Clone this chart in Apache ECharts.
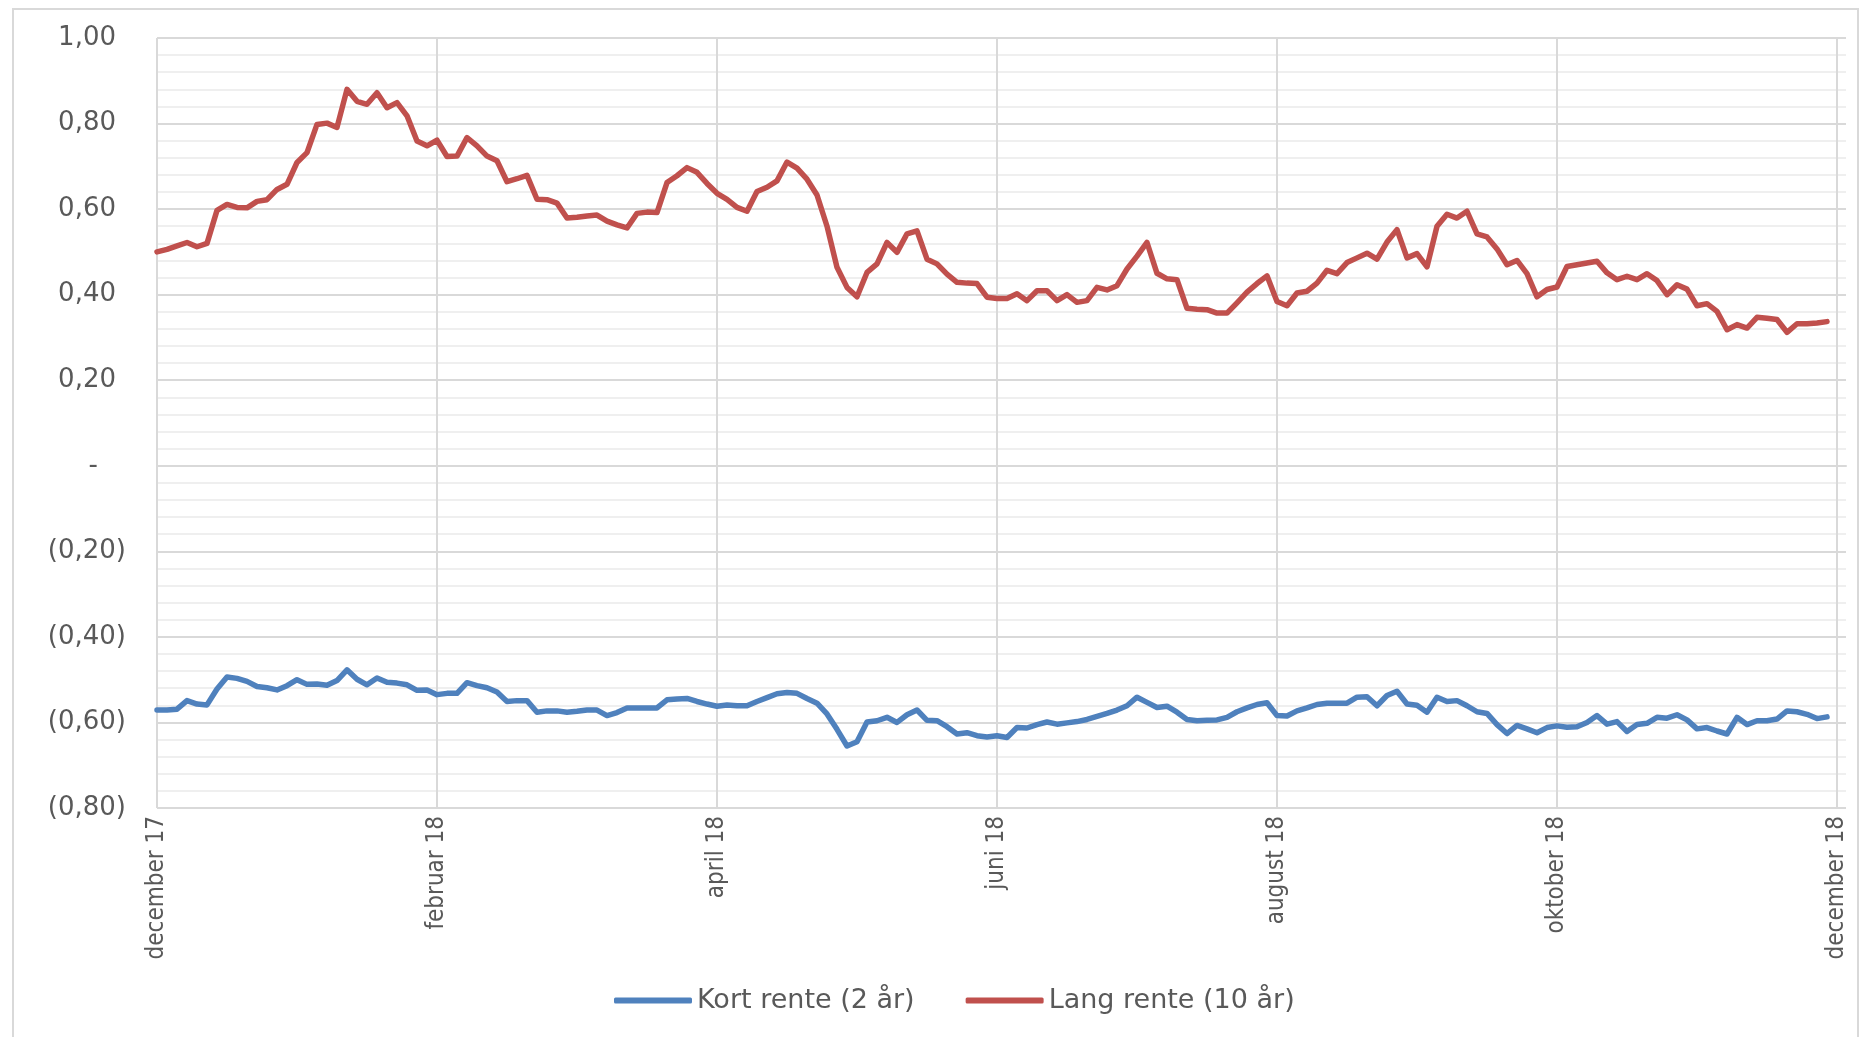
<!DOCTYPE html>
<html>
<head>
<meta charset="utf-8">
<script src="https://cdn.jsdelivr.net/npm/echarts@6/dist/echarts.min.js"></script>
<style>
html,body{margin:0;padding:0;background:#fff;}
#c{width:1861px;height:1037px;}
</style>
</head>
<body>
<div id="c"></div>
<script>
// x tick labels (every 2 months)
const tickLabels = ['december 17','februar 18','april 18','juni 18','august 18','oktober 18','december 18'];
const pointsPerLabel = 28;

// Kort rente (2 år)
const kortRente = [
-0.571,-0.571,-0.569,-0.549,-0.557,-0.559,-0.522,-0.494,-0.497,-0.504,
-0.516,-0.519,-0.524,-0.514,-0.500,-0.511,-0.510,-0.513,-0.502,-0.477,
-0.499,-0.512,-0.496,-0.506,-0.508,-0.512,-0.525,-0.524,-0.535,-0.532,
-0.532,-0.507,-0.514,-0.519,-0.529,-0.551,-0.549,-0.549,-0.576,-0.573,
-0.573,-0.576,-0.574,-0.571,-0.571,-0.584,-0.577,-0.566,-0.566,-0.566,
-0.566,-0.547,-0.545,-0.544,-0.551,-0.557,-0.562,-0.559,-0.561,-0.561,
-0.551,-0.542,-0.533,-0.530,-0.532,-0.544,-0.555,-0.580,-0.616,-0.655,
-0.645,-0.599,-0.596,-0.588,-0.600,-0.582,-0.571,-0.595,-0.596,-0.610,
-0.627,-0.624,-0.631,-0.634,-0.631,-0.635,-0.612,-0.613,-0.605,-0.599,
-0.604,-0.601,-0.598,-0.593,-0.586,-0.579,-0.571,-0.561,-0.541,-0.553,
-0.565,-0.562,-0.576,-0.593,-0.596,-0.595,-0.594,-0.588,-0.575,-0.566,
-0.558,-0.554,-0.584,-0.585,-0.573,-0.566,-0.558,-0.555,-0.555,-0.555,
-0.541,-0.540,-0.561,-0.537,-0.527,-0.557,-0.560,-0.576,-0.541,-0.551,
-0.549,-0.561,-0.575,-0.579,-0.605,-0.626,-0.607,-0.615,-0.624,-0.612,
-0.608,-0.611,-0.610,-0.600,-0.584,-0.604,-0.598,-0.621,-0.605,-0.602,
-0.588,-0.590,-0.582,-0.594,-0.615,-0.612,-0.620,-0.627,-0.588,-0.605,
-0.596,-0.596,-0.592,-0.573,-0.575,-0.581,-0.591,-0.587
];

// Lang rente (10 år)
const langRente = [
0.500,0.506,0.514,0.522,0.512,0.520,0.597,0.611,0.604,0.603,
0.618,0.622,0.646,0.658,0.709,0.732,0.798,0.801,0.791,0.880,
0.852,0.845,0.872,0.837,0.849,0.818,0.759,0.748,0.761,0.723,
0.724,0.767,0.748,0.724,0.713,0.664,0.671,0.679,0.623,0.622,
0.614,0.579,0.581,0.584,0.586,0.572,0.563,0.556,0.590,0.593,
0.592,0.662,0.678,0.697,0.686,0.660,0.637,0.623,0.604,0.595,
0.641,0.651,0.666,0.710,0.696,0.670,0.633,0.560,0.464,0.417,
0.395,0.452,0.472,0.522,0.499,0.542,0.549,0.483,0.472,0.448,
0.429,0.427,0.426,0.394,0.391,0.391,0.402,0.386,0.409,0.409,
0.386,0.400,0.382,0.386,0.417,0.411,0.421,0.460,0.490,0.522,
0.450,0.437,0.435,0.368,0.366,0.365,0.357,0.357,0.381,0.406,
0.426,0.444,0.384,0.374,0.404,0.408,0.427,0.457,0.449,0.475,
0.486,0.497,0.483,0.523,0.552,0.486,0.496,0.465,0.560,0.588,
0.579,0.595,0.542,0.535,0.507,0.470,0.480,0.449,0.395,0.412,
0.418,0.466,0.470,0.474,0.478,0.451,0.435,0.443,0.435,0.449,
0.433,0.400,0.423,0.413,0.374,0.379,0.361,0.318,0.330,0.322,
0.347,0.345,0.342,0.312,0.332,0.332,0.334,0.337
];

const seriesNames = ['Kort rente (2 år)', 'Lang rente (10 år)'];

function fmtNum(v){ return v.toFixed(2).replace('.', ','); }

const chart = echarts.init(document.getElementById('c'));
const textColor = '#595959';
const gridColor = '#d9d9d9';
const lastTick = pointsPerLabel * (tickLabels.length - 1);
const yFont = 26;

chart.setOption({
  animation: false,
  backgroundColor: '#ffffff',
  graphic: [{
    type: 'rect', z: -10,
    shape: {x: 13, y: 9, width: 1845, height: 1040},
    style: {fill: 'none', stroke: '#d9d9d9', lineWidth: 2}
  }],
  grid: {left: 157, top: 38, right: 15, bottom: 229, containLabel: false},
  xAxis: {
    type: 'value',
    min: 0,
    max: lastTick + 0.9,
    interval: pointsPerLabel,
    axisLine: {show: true, lineStyle: {color: gridColor, width: 2}},
    axisTick: {show: false},
    splitLine: {show: true, showMaxLine: false, lineStyle: {color: gridColor, width: 2}},
    axisLabel: {
      rotate: 90,
      margin: 8,
      color: textColor,
      fontFamily: "'DejaVu Sans Condensed', 'Liberation Sans', sans-serif",
      fontSize: 24,
      showMaxLabel: true,
      formatter: function (v) {
        const k = v / pointsPerLabel;
        if (Math.abs(k - Math.round(k)) > 1e-6) return '';
        return tickLabels[Math.round(k)] || '';
      }
    }
  },
  yAxis: {
    type: 'value',
    min: -0.8,
    max: 1.0,
    interval: 0.2,
    axisLine: {show: false},
    axisTick: {show: false},
    splitLine: {show: true, lineStyle: {color: gridColor, width: 2}},
    minorTick: {show: false, splitNumber: 5},
    minorSplitLine: {show: true, lineStyle: {color: '#efefef', width: 2}},
    axisLabel: {
      margin: 31,
      color: textColor,
      fontFamily: "'DejaVu Sans', sans-serif",
      fontSize: yFont,
      formatter: function (v) {
        if (Math.abs(v) < 1e-9) return '{z|-}';
        if (v < 0) return '{n|(' + fmtNum(-v) + ')}';
        return '{p|' + fmtNum(v) + '}';
      },
      rich: {
        z: {color: textColor, fontFamily: "'DejaVu Sans', sans-serif", fontSize: yFont, padding: [0, 28, 0, 0]},
        n: {color: textColor, fontFamily: "'DejaVu Sans', sans-serif", fontSize: yFont},
        p: {color: textColor, fontFamily: "'DejaVu Sans', sans-serif", fontSize: yFont, padding: [0, 10, 0, 0]}
      }
    }
  },
  legend: {
    left: 614,
    top: 987,
    padding: 0,
    itemWidth: 78,
    itemHeight: 6,
    itemGap: 51,
    icon: 'roundRect',
    textStyle: {color: textColor, fontFamily: "'DejaVu Sans', sans-serif", fontSize: 27},
    data: seriesNames
  },
  series: [
    {
      name: seriesNames[0], type: 'line', showSymbol: false, symbol: 'none',
      color: '#4F81BD',
      lineStyle: {color: '#4F81BD', width: 5.5, cap: 'round', join: 'round'},
      data: kortRente.map(function (v, i) { return [i, v]; })
    },
    {
      name: seriesNames[1], type: 'line', showSymbol: false, symbol: 'none',
      color: '#C0504D',
      lineStyle: {color: '#C0504D', width: 5.5, cap: 'round', join: 'round'},
      data: langRente.map(function (v, i) { return [i, v]; })
    }
  ]
});
</script>
</body>
</html>
